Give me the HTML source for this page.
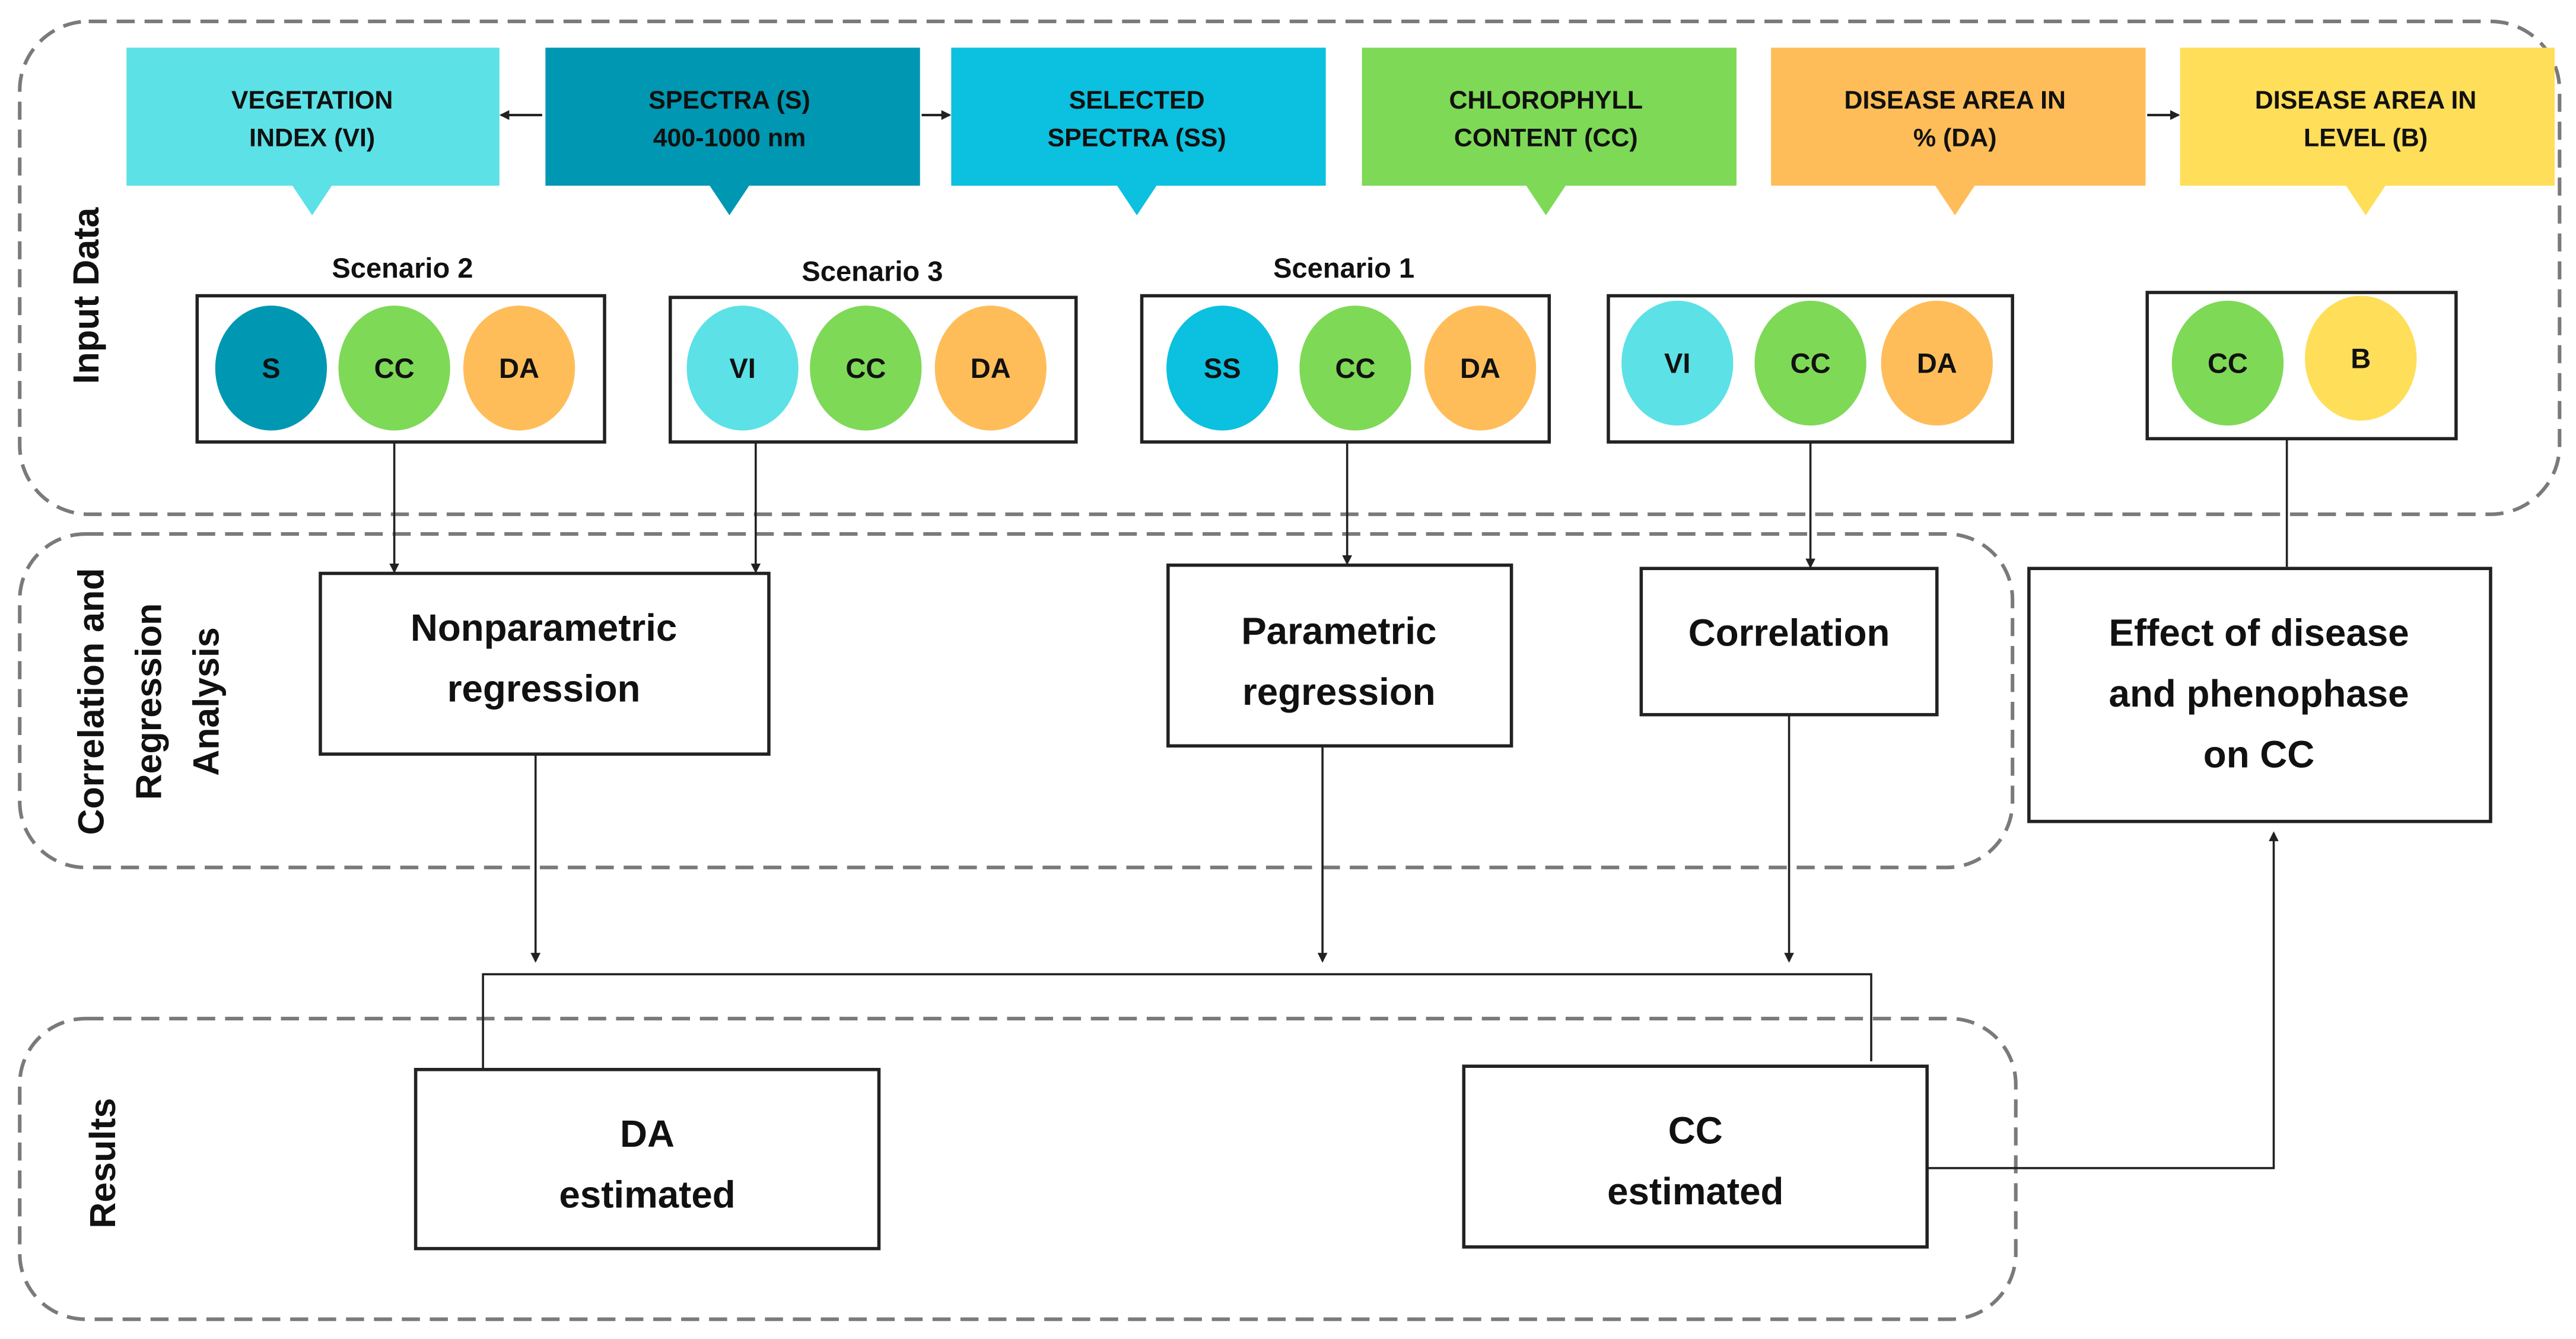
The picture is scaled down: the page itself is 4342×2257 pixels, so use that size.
<!DOCTYPE html>
<html><head><meta charset="utf-8"><style>
html,body{margin:0;padding:0;background:#fff;}
svg{display:block;}
text{font-family:"Liberation Sans",sans-serif;font-weight:bold;fill:#111;}
</style></head><body>
<svg width="4342" height="2257" viewBox="0 0 1568 815" xmlns="http://www.w3.org/2000/svg">
<defs>
<marker id="a" markerWidth="6" markerHeight="6" refX="5" refY="3" orient="auto" markerUnits="userSpaceOnUse"><path d="M0,0 L6,3 L0,6 z" fill="#222"/></marker>
</defs>
<g fill="none" stroke="#7a7a7a" stroke-width="2.2" stroke-dasharray="11,6">
<rect x="12" y="13" width="1546" height="300" rx="42"/>
<rect x="12" y="325" width="1213" height="203" rx="40"/>
<rect x="12" y="620" width="1215" height="183" rx="40"/>
</g>
<!-- headers -->
<g font-size="15.5" text-anchor="middle">
<rect x="77" y="29" width="227" height="84" fill="#5ce1e6"/><path d="M178,113 L202,113 L190,131 z" fill="#5ce1e6"/>
<text x="190" y="66">VEGETATION</text><text x="190" y="89">INDEX (VI)</text>
<rect x="332" y="29" width="228" height="84" fill="#0097b2"/><path d="M432,113 L456,113 L444,131 z" fill="#0097b2"/>
<text x="444" y="66">SPECTRA (S)</text><text x="444" y="89">400-1000 nm</text>
<rect x="579" y="29" width="228" height="84" fill="#0cc0df"/><path d="M680,113 L704,113 L692,131 z" fill="#0cc0df"/>
<text x="692" y="66">SELECTED</text><text x="692" y="89">SPECTRA (SS)</text>
<rect x="829" y="29" width="228" height="84" fill="#7ed957"/><path d="M929,113 L953,113 L941,131 z" fill="#7ed957"/>
<text x="941" y="66">CHLOROPHYLL</text><text x="941" y="89">CONTENT (CC)</text>
<rect x="1078" y="29" width="228" height="84" fill="#ffbd59"/><path d="M1178,113 L1202,113 L1190,131 z" fill="#ffbd59"/>
<text x="1190" y="66">DISEASE AREA IN</text><text x="1190" y="89">% (DA)</text>
<rect x="1327" y="29" width="228" height="84" fill="#ffde59"/><path d="M1428,113 L1452,113 L1440,131 z" fill="#ffde59"/>
<text x="1440" y="66">DISEASE AREA IN</text><text x="1440" y="89">LEVEL (B)</text>
</g>
<g stroke="#222" stroke-width="1.5" marker-end="url(#a)">
<line x1="330" y1="70" x2="305" y2="70"/><line x1="561" y1="70" x2="578" y2="70"/><line x1="1307" y1="70" x2="1326" y2="70"/>
</g>
<!-- scenarios -->
<g font-size="17" text-anchor="middle">
<text x="245" y="169">Scenario 2</text><text x="531" y="171">Scenario 3</text><text x="818" y="169">Scenario 1</text>
</g>
<g fill="#fff" stroke="#222" stroke-width="2">
<rect x="120" y="180" width="248" height="89"/><rect x="408" y="181" width="247" height="88"/>
<rect x="695" y="180" width="248" height="89"/><rect x="979" y="180" width="246" height="89"/>
<rect x="1307" y="178" width="188" height="89"/>
</g>
<g font-size="17" text-anchor="middle">
<ellipse cx="165" cy="224" rx="34" ry="38" fill="#0097b2"/><text x="165" y="230">S</text>
<ellipse cx="240" cy="224" rx="34" ry="38" fill="#7ed957"/><text x="240" y="230">CC</text>
<ellipse cx="316" cy="224" rx="34" ry="38" fill="#ffbd59"/><text x="316" y="230">DA</text>
<ellipse cx="452" cy="224" rx="34" ry="38" fill="#5ce1e6"/><text x="452" y="230">VI</text>
<ellipse cx="527" cy="224" rx="34" ry="38" fill="#7ed957"/><text x="527" y="230">CC</text>
<ellipse cx="603" cy="224" rx="34" ry="38" fill="#ffbd59"/><text x="603" y="230">DA</text>
<ellipse cx="744" cy="224" rx="34" ry="38" fill="#0cc0df"/><text x="744" y="230">SS</text>
<ellipse cx="825" cy="224" rx="34" ry="38" fill="#7ed957"/><text x="825" y="230">CC</text>
<ellipse cx="901" cy="224" rx="34" ry="38" fill="#ffbd59"/><text x="901" y="230">DA</text>
<ellipse cx="1021" cy="221" rx="34" ry="38" fill="#5ce1e6"/><text x="1021" y="227">VI</text>
<ellipse cx="1102" cy="221" rx="34" ry="38" fill="#7ed957"/><text x="1102" y="227">CC</text>
<ellipse cx="1179" cy="221" rx="34" ry="38" fill="#ffbd59"/><text x="1179" y="227">DA</text>
<ellipse cx="1356" cy="221" rx="34" ry="38" fill="#7ed957"/><text x="1356" y="227">CC</text>
<ellipse cx="1437" cy="218" rx="34" ry="38" fill="#ffde59"/><text x="1437" y="224">B</text>
</g>
<!-- connectors -->
<g stroke="#222" stroke-width="1.3" fill="none">
<line x1="240" y1="269" x2="240" y2="348" marker-end="url(#a)"/>
<line x1="460" y1="269" x2="460" y2="348" marker-end="url(#a)"/>
<line x1="820" y1="269" x2="820" y2="343" marker-end="url(#a)"/>
<line x1="1102" y1="269" x2="1102" y2="345" marker-end="url(#a)"/>
<line x1="1392" y1="267" x2="1392" y2="345"/>
<line x1="326" y1="459" x2="326" y2="585" marker-end="url(#a)"/>
<line x1="805" y1="454" x2="805" y2="585" marker-end="url(#a)"/>
<line x1="1089" y1="435" x2="1089" y2="585" marker-end="url(#a)"/>
<polyline points="294,650 294,593 1139,593 1139,646"/>
<polyline points="1173,711 1384,711 1384,507" marker-end="url(#a)"/>
</g>
<!-- middle boxes -->
<g fill="#fff" stroke="#222" stroke-width="2">
<rect x="195" y="349" width="273" height="110"/><rect x="711" y="344" width="209" height="110"/>
<rect x="999" y="346" width="180" height="89"/><rect x="1235" y="346" width="281" height="154"/>
<rect x="253" y="651" width="282" height="109"/><rect x="891" y="649" width="282" height="110"/>
</g>
<g font-size="23" text-anchor="middle">
<text x="331" y="390">Nonparametric</text><text x="331" y="427">regression</text>
<text x="815" y="392">Parametric</text><text x="815" y="429">regression</text>
<text x="1089" y="393">Correlation</text>
<text x="1375" y="393">Effect of disease</text><text x="1375" y="430">and phenophase</text><text x="1375" y="467">on CC</text>
<text x="394" y="698">DA</text><text x="394" y="735">estimated</text>
<text x="1032" y="696">CC</text><text x="1032" y="733">estimated</text>
</g>
<g font-size="22" text-anchor="middle">
<text transform="translate(60,180) rotate(-90)">Input Data</text>
<text transform="translate(63,427) rotate(-90)">Correlation and</text>
<text transform="translate(98,427) rotate(-90)">Regression</text>
<text transform="translate(133,427) rotate(-90)">Analysis</text>
<text transform="translate(70,708) rotate(-90)">Results</text>
</g>
</svg>
</body></html>
